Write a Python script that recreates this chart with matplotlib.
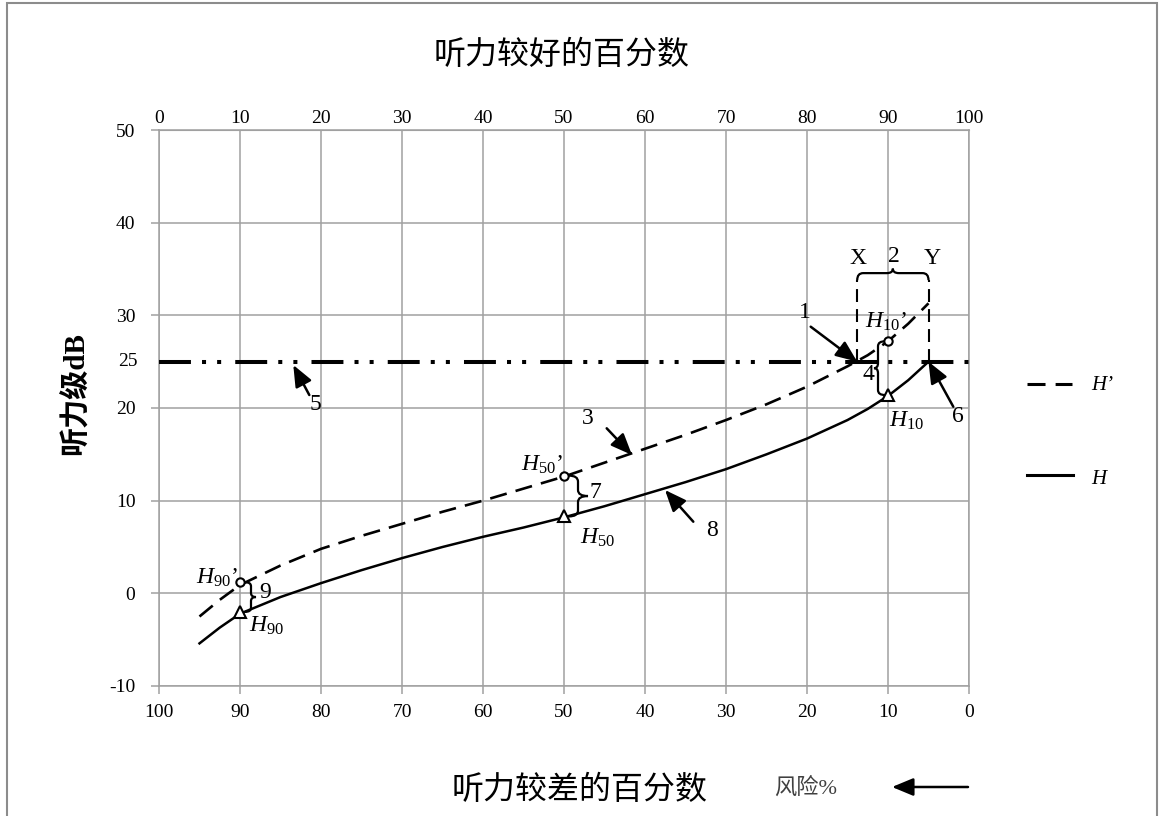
import numpy as np
import matplotlib.pyplot as plt
from matplotlib.path import Path
from matplotlib.patches import PathPatch, Rectangle
from matplotlib.lines import Line2D
from matplotlib.transforms import IdentityTransform

plt.rcParams['font.family'] = ['Liberation Serif', 'Noto Sans CJK SC']
plt.rcParams['mathtext.fontset'] = 'custom'
plt.rcParams['mathtext.it'] = 'Liberation Serif:italic'
plt.rcParams['mathtext.rm'] = 'Liberation Serif'
plt.rcParams['axes.unicode_minus'] = False

# risk % (bottom axis, 听力较差的百分数) and hearing level dB
risk = [95, 92.5, 90, 85, 80, 75, 70, 65, 60, 55, 50, 45, 40, 35, 30, 25, 20, 15, 12.5, 10, 7.5, 5]
level_H = [-5.4, -3.7, -2.2, -0.4, 1.1, 2.5, 3.8, 5.0, 6.1, 7.1, 8.2, 9.4, 10.7, 12.0, 13.4, 15.0,
           16.7, 18.7, 19.9, 21.3, 23.0, 25.0]
level_H1 = [-2.5, -0.7, 0.9, 3.0, 4.8, 6.2, 7.5, 8.8, 10.0, 11.3, 12.6, 14.1, 15.6, 17.1, 18.7, 20.4,
            22.3, 24.5, 25.7, 27.2, 29.1, 31.3]

ref_risk = [90, 50, 10]
mark_H = [-2.0, 8.3, 21.4]
mark_H1 = [1.2, 12.7, 27.2]

limit_db = 25
x_point = 13.8   # H' reaches 25 dB
y_point = 5.0    # H reaches 25 dB
brace_top = 33.8

W, HPX = 1160, 816
grid_c = '#a0a0a0'

fig = plt.figure(figsize=(W / 100, HPX / 100), dpi=100)
ax = fig.add_axes([159 / W, 130 / HPX, 810 / W, 556 / HPX])
ax.set_xlim(100, 0)
ax.set_ylim(-10, 50)
ax.set_xticks(range(0, 101, 10))
ax.set_yticks(range(-10, 51, 10))
ax.grid(True, color=grid_c, lw=1.1)
ax.set_axisbelow(True)
for s in ax.spines.values():
    s.set_color(grid_c)
    s.set_linewidth(1.1)
ax.tick_params(axis='x', direction='out', length=6, width=1.1, color=grid_c, labelsize=14, pad=7)
ax.tick_params(axis='y', direction='out', length=6, width=1.1, color=grid_c, labelsize=14, pad=11)
ax.text(-0.026, limit_db, '25', transform=ax.get_yaxis_transform(), ha='right', va='center', fontsize=14)

top = ax.secondary_xaxis('top', functions=(lambda r: 100 - r, lambda p: 100 - p))
top.set_xticks(range(0, 101, 10))
top.tick_params(length=0, labelsize=14, pad=2)
top.spines['top'].set_color(grid_c)

# curves
ax.plot(risk, level_H, color='k', lw=1.8, zorder=3, solid_joinstyle='round')
ax.plot(risk, level_H1, color='k', lw=1.9, dashes=(6.5, 3.5), zorder=3)
ax.axhline(limit_db, color='k', lw=2.9, dashes=(7.93, 2.75, 1, 2.75, 1, 3.5), zorder=3)

# X / Y verticals
for xv in (x_point, y_point):
    ax.plot([xv, xv], [limit_db, brace_top], color='k', lw=1.5, dashes=(6.2, 3.4), zorder=3)

ax.plot(ref_risk, mark_H1, 'o', mfc='white', mec='k', ms=6, mew=1.5, zorder=5)
ax.plot(ref_risk, mark_H, '^', mfc='white', mec='k', ms=8, mew=1.5, zorder=5)


def disp(x, y):
    return np.array(ax.transData.transform((x, y)), float)


def brace(p0, p1, d_line, d_tip, r=5):
    p0 = np.asarray(p0, float)
    p1 = np.asarray(p1, float)
    u = (p1 - p0) / np.linalg.norm(p1 - p0)
    n = np.array([-u[1], u[0]])
    m = (p0 + p1) / 2
    a, b, c = p0 + d_line * n, p1 + d_line * n, m + d_line * n
    verts = [p0, a, a + r * u, c - r * u, c, m + d_tip * n, c, c + r * u, b - r * u, b, p1]
    codes = [Path.MOVETO, Path.CURVE3, Path.CURVE3, Path.LINETO, Path.CURVE3, Path.CURVE3,
             Path.CURVE3, Path.CURVE3, Path.LINETO, Path.CURVE3, Path.CURVE3]
    fig.add_artist(PathPatch(Path(verts, codes), fill=False, ec='k', lw=1.6,
                             transform=IdentityTransform(), zorder=6))


# top brace over X..Y
brace(disp(x_point, brace_top), disp(y_point, brace_top), 7, 11.5, r=6)
# H10 "{"
brace(disp(10, mark_H[2]) + [-3, 0], disp(10, mark_H1[2]) + [-3, 0], 7, 11, r=5)
# H50 "}"
brace(disp(50, mark_H1[1]) + [5, 0], disp(50, mark_H[1]) + [5, 0], 9, 19, r=6)
# H90 "}"
brace(disp(90, mark_H1[0]) + [5, 0], disp(90, mark_H[0]) + [5, 0], 6, 11, r=4)


def fp(x, y):
    return (x, HPX - y)


def label(x, y, s, size=17, **kw):
    ax.annotate(s, xy=fp(x, y), xycoords='figure pixels', ha='center', va='center',
                fontsize=size, annotation_clip=False, **kw)


arrow = dict(arrowstyle='-|>,head_length=0.65,head_width=0.27', mutation_scale=20,
             lw=1.8, color='k', shrinkA=0, shrinkB=0)


def pointer(tail, head_data=None, head_px=None):
    if head_data is not None:
        ax.annotate('', xy=head_data, xycoords='data', xytext=fp(*tail),
                    textcoords='figure pixels', arrowprops=arrow, annotation_clip=False)
    else:
        ax.annotate('', xy=fp(*head_px), xycoords='figure pixels', xytext=fp(*tail),
                    textcoords='figure pixels', arrowprops=arrow, annotation_clip=False)


label(805, 313, '1')
label(858, 258, 'X')
label(894, 257, '2')
label(932, 258, 'Y')
label(886, 322, r'$\mathit{H}_{\mathit{10}}$’')
label(868, 375, '4')
label(907, 421, r'$\mathit{H}_{\mathit{10}}$')
label(958, 417, '6')
label(588, 418, '3')
label(542, 465, r'$\mathit{H}_{\mathit{50}}$’')
label(595, 493, '7')
label(598, 538, r'$\mathit{H}_{\mathit{50}}$')
label(712, 530, '8')
label(315, 405, '5')
label(217, 578, r'$\mathit{H}_{\mathit{90}}$’')
label(265, 593, '9')
label(267, 626, r'$\mathit{H}_{\mathit{90}}$')

pointer((810.7, 326.7), head_data=(x_point, limit_db))
pointer((953.3, 406.7), head_data=(y_point, limit_db))
pointer((606.7, 428.3), head_px=(632, 455))
pointer((693.3, 521.7), head_px=(665, 490))
pointer((309.3, 395), head_px=(293.3, 365))

# legend
fig.add_artist(Line2D([1027 / W, 1072 / W], [1 - 384 / HPX] * 2, transform=fig.transFigure,
                      color='k', lw=2.2, dashes=(5.9, 3.3)))
fig.add_artist(Line2D([1027 / W, 1073 / W], [1 - 475 / HPX] * 2, transform=fig.transFigure,
                      color='k', lw=2.2))
fig.text(1091 / W, 1 - 386 / HPX, 'H’', fontsize=15, style='italic', va='center')
fig.text(1091 / W, 1 - 480 / HPX, 'H', fontsize=15, style='italic', va='center')

# titles
fig.text(562 / W, 1 - 56 / HPX, '听力较好的百分数', ha='center', va='center', fontsize=23)
fig.text(580 / W, 1 - 791 / HPX, '听力较差的百分数', ha='center', va='center', fontsize=23)
fig.text(806 / W, 1 - 788 / HPX, '风险%', ha='center', va='center', fontsize=16, color='#404040')
fig.text(76 / W, 1 - 394 / HPX, '听力级dB', rotation=90, ha='center', va='center',
         fontsize=21, fontweight='bold')
ax.annotate('', xy=fp(892, 787), xycoords='figure pixels', xytext=fp(968, 787),
            textcoords='figure pixels', arrowprops=arrow, annotation_clip=False)

fig.add_artist(Rectangle((7 / W, -0.05), 1150 / W, 1.05 - 3 / HPX, transform=fig.transFigure,
                         fill=False, ec='#8c8c8c', lw=1.5))

fig.savefig('out.png', dpi=100)
